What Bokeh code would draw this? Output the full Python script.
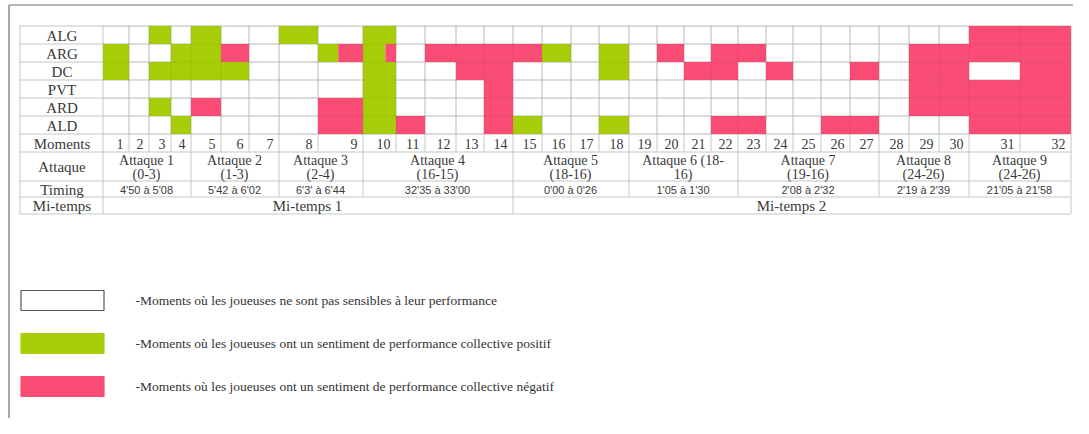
from bokeh.plotting import figure
from bokeh.models import Range1d
from bokeh.embed import file_html
from bokeh.resources import INLINE
from bokeh.core.properties import value
import numpy as np

# ---------------- data ----------------
players = ["ALG", "ARG", "DC", "PVT", "ARD", "ALD"]
moments = list(range(1, 33))
# 0 = neutre, 1 = positif, 2 = negatif, 3 = mi-positif / mi-negatif
ALG = [0,0,1,0,1,0,0,1,0,1,0,0,0,0,0,0,0,0,0,0,0,0,0,0,0,0,0,0,0,0,2,2]
ARG = [1,0,0,1,1,2,0,0,3,3,0,2,2,2,2,1,0,1,0,2,0,2,2,0,0,0,0,0,2,2,2,2]
DC  = [1,0,1,1,1,1,0,0,0,1,0,0,2,2,0,0,0,1,0,0,2,2,0,2,0,0,2,0,2,2,0,2]
PVT = [0,0,0,0,0,0,0,0,0,1,0,0,0,2,0,0,0,0,0,0,0,0,0,0,0,0,0,0,2,2,2,2]
ARD = [0,0,1,0,2,0,0,0,2,1,0,0,0,2,0,0,0,0,0,0,0,0,0,0,0,0,0,0,2,2,2,2]
ALD = [0,0,0,1,0,0,0,0,2,1,2,0,0,2,1,0,0,1,0,0,0,2,2,0,0,2,2,0,0,0,2,2]
# share of the positive part in the split cells
split_share = {("ARG", 9): 0.45, ("ARG", 10): 0.68}

attaque_l1 = ["Attaque 1", "Attaque 2", "Attaque 3", "Attaque 4", "Attaque 5",
              "Attaque 6 (18-", "Attaque 7", "Attaque 8", "Attaque 9"]
attaque_l2 = ["(0-3)", "(1-3)", "(2-4)", "(16-15)", "(18-16)", "16)", "(19-16)", "(24-26)", "(24-26)"]
attaque_first = [1, 5, 8, 10, 15, 19, 23, 28, 31]
attaque_last = [4, 7, 9, 14, 18, 22, 27, 30, 32]
timings = ["4'50 à 5'08", "5'42 à 6'02", "6'3' à 6'44", "32'35 à 33'00", "0'00 à 0'26",
           "1'05 à 1'30", "2'08 à 2'32", "2'19 à 2'39", "21'05 à 21'58"]
mitemps = ["Mi-temps 1", "Mi-temps 2"]
mitemps_first = [1, 15]
mitemps_last = [14, 32]
row_labels = ["Moments", "Attaque", "Timing", "Mi-temps"]
legend_labels = [
    "-Moments où les joueuses ne sont pas sensibles à leur performance",
    "-Moments où les joueuses ont un sentiment de performance collective positif",
    "-Moments où les joueuses ont un sentiment de performance collective négatif",
]

# ---------------- layout / style ----------------
GREEN = "#a6cd06"
PINK = "#f94d75"
GRID = "#c6c6c6"
TXT = "#3a3a3a"
SERIF = value("Liberation Serif")

col_w = [26,20,22,20,30,28,30,39,45,33,29,31,28,29,29,29,28,30,28,27,27,27,28,27,28,29,29,30,30,30,51,51]
X0 = 102
LBL_L = 19
edges = np.concatenate([[X0], X0 + np.cumsum(col_w)]).astype(float)
X1 = edges[-1]
TOP = 25
RH = 18
ry = [TOP + i * RH for i in range(len(players) + 1)]
y_mom = (ry[-1], ry[-1] + 18)
y_att = (y_mom[1], y_mom[1] + 29)
y_tim = (y_att[1], y_att[1] + 16)
y_mi = (y_tim[1], y_tim[1] + 17)

p = figure(width=1073, height=418, x_range=Range1d(0, 1073), y_range=Range1d(418, 0),
           output_backend="svg", toolbar_location=None, min_border=0,
           x_axis_location=None, y_axis_location=None)
p.grid.visible = False
p.outline_line_color = None
p.background_fill_color = "white"

# outer frame
p.segment(x0=[8.5, 8.5], y0=[4.5, 4.5], x1=[8.5, 1083], y1=[418, 4.5], line_color="#6e6e6e", line_width=1.2)

# grid lines
hy = [*ry, y_mom[1], y_att[1], y_tim[1], y_mi[1]]
p.segment(x0=[LBL_L] * len(hy), x1=[X1] * len(hy), y0=[h + 0.5 for h in hy], y1=[h + 0.5 for h in hy],
          line_color=GRID, line_width=1)
vx = [LBL_L, X0, X1]
p.segment(x0=[v + 0.5 for v in vx], x1=[v + 0.5 for v in vx], y0=[TOP] * 3, y1=[y_mi[1]] * 3,
          line_color=GRID, line_width=1)
inner = list(edges[1:-1])
p.segment(x0=[v + 0.5 for v in inner], x1=[v + 0.5 for v in inner], y0=[TOP] * len(inner),
          y1=[y_mom[1]] * len(inner), line_color=GRID, line_width=1)
gb = [edges[l] for l in attaque_last[:-1]]
p.segment(x0=[v + 0.5 for v in gb], x1=[v + 0.5 for v in gb], y0=[y_att[0]] * len(gb),
          y1=[y_tim[1]] * len(gb), line_color=GRID, line_width=1)
mb = [edges[l] for l in mitemps_last[:-1]]
p.segment(x0=[v + 0.5 for v in mb], x1=[v + 0.5 for v in mb], y0=[y_mi[0]] * len(mb),
          y1=[y_mi[1]] * len(mb), line_color=GRID, line_width=1)

# coloured cells
rows = [ALG, ARG, DC, PVT, ARD, ALD]
cl, cr, ct, cb, cc = [], [], [], [], []
for i, (name, codes) in enumerate(zip(players, rows)):
    for j, c in enumerate(codes):
        l, r = edges[j] + 0.5, edges[j + 1] + 0.5
        t, b = ry[i] + 0.5, ry[i + 1] + 0.5
        if c == 1 or c == 2:
            cl.append(l); cr.append(r); ct.append(t); cb.append(b)
            cc.append(GREEN if c == 1 else PINK)
        elif c == 3:
            m = l + (r - l) * split_share[(name, moments[j])]
            cl += [l, m]; cr += [m, r]; ct += [t, t]; cb += [b, b]; cc += [GREEN, PINK]
p.quad(left=cl, right=cr, top=ct, bottom=cb, fill_color=cc, line_color=None)
# faint grid over coloured cells
p.segment(x0=[v + 0.5 for v in inner], x1=[v + 0.5 for v in inner], y0=[TOP] * len(inner),
          y1=[ry[-1]] * len(inner), line_color="#000000", line_alpha=0.06, line_width=1)
p.segment(x0=[X0] * len(ry), x1=[X1] * len(ry), y0=[h + 0.5 for h in ry], y1=[h + 0.5 for h in ry],
          line_color="#000000", line_alpha=0.06, line_width=1)

# left labels
lbl_x = (LBL_L + X0) / 2 + 1
ys = [(ry[i] + ry[i + 1]) / 2 + 1 for i in range(len(players))]
p.text(x=[lbl_x] * len(players), y=ys, text=players, text_align="center", text_baseline="middle",
       text_font=SERIF, text_font_size="15px", text_color=TXT)
ys2 = [sum(y_mom) / 2 + 1, sum(y_att) / 2 + 1, sum(y_tim) / 2 + 1, sum(y_mi) / 2 + 1]
p.text(x=[lbl_x] * 4, y=ys2, text=row_labels, text_align="center", text_baseline="middle",
       text_font=SERIF, text_font_size="15px", text_color=TXT)

# moments numbers
p.text(x=[e - 5 for e in edges[1:]], y=[sum(y_mom) / 2 + 1] * len(moments), text=[str(m) for m in moments],
       text_align="right", text_baseline="middle", text_font=SERIF, text_font_size="14px", text_color=TXT)

# attaque row
ax = [(edges[f - 1] + edges[l]) / 2 for f, l in zip(attaque_first, attaque_last)]
p.text(x=ax, y=[y_att[0] + 8.5] * len(ax), text=attaque_l1, text_align="center", text_baseline="middle",
       text_font=SERIF, text_font_size="14px", text_color=TXT)
p.text(x=ax, y=[y_att[0] + 22.5] * len(ax), text=attaque_l2, text_align="center", text_baseline="middle",
       text_font=SERIF, text_font_size="14px", text_color=TXT)
p.text(x=ax, y=[sum(y_tim) / 2 + 1] * len(ax), text=timings, text_align="center", text_baseline="middle",
       text_font=value("Liberation Sans"), text_font_size="11px", text_color=TXT)
mx = [(edges[f - 1] + edges[l]) / 2 for f, l in zip(mitemps_first, mitemps_last)]
p.text(x=mx, y=[sum(y_mi) / 2 + 1] * 2, text=mitemps, text_align="center", text_baseline="middle",
       text_font=SERIF, text_font_size="15px", text_color=TXT)

# legend
leg_y = [300, 343, 386]
p.quad(left=[20.5] * 3, right=[103.5] * 3, top=[y - 10 for y in leg_y], bottom=[y + 10 for y in leg_y],
       fill_color=["white", GREEN, PINK], line_color=["#555555", GREEN, PINK], line_width=1.2)
p.text(x=[135] * 3, y=leg_y, text=legend_labels, text_align="left", text_baseline="middle",
       text_font=SERIF, text_font_size="13.5px", text_color="#333333")

open("out.html", "w").write(file_html(p, INLINE))
